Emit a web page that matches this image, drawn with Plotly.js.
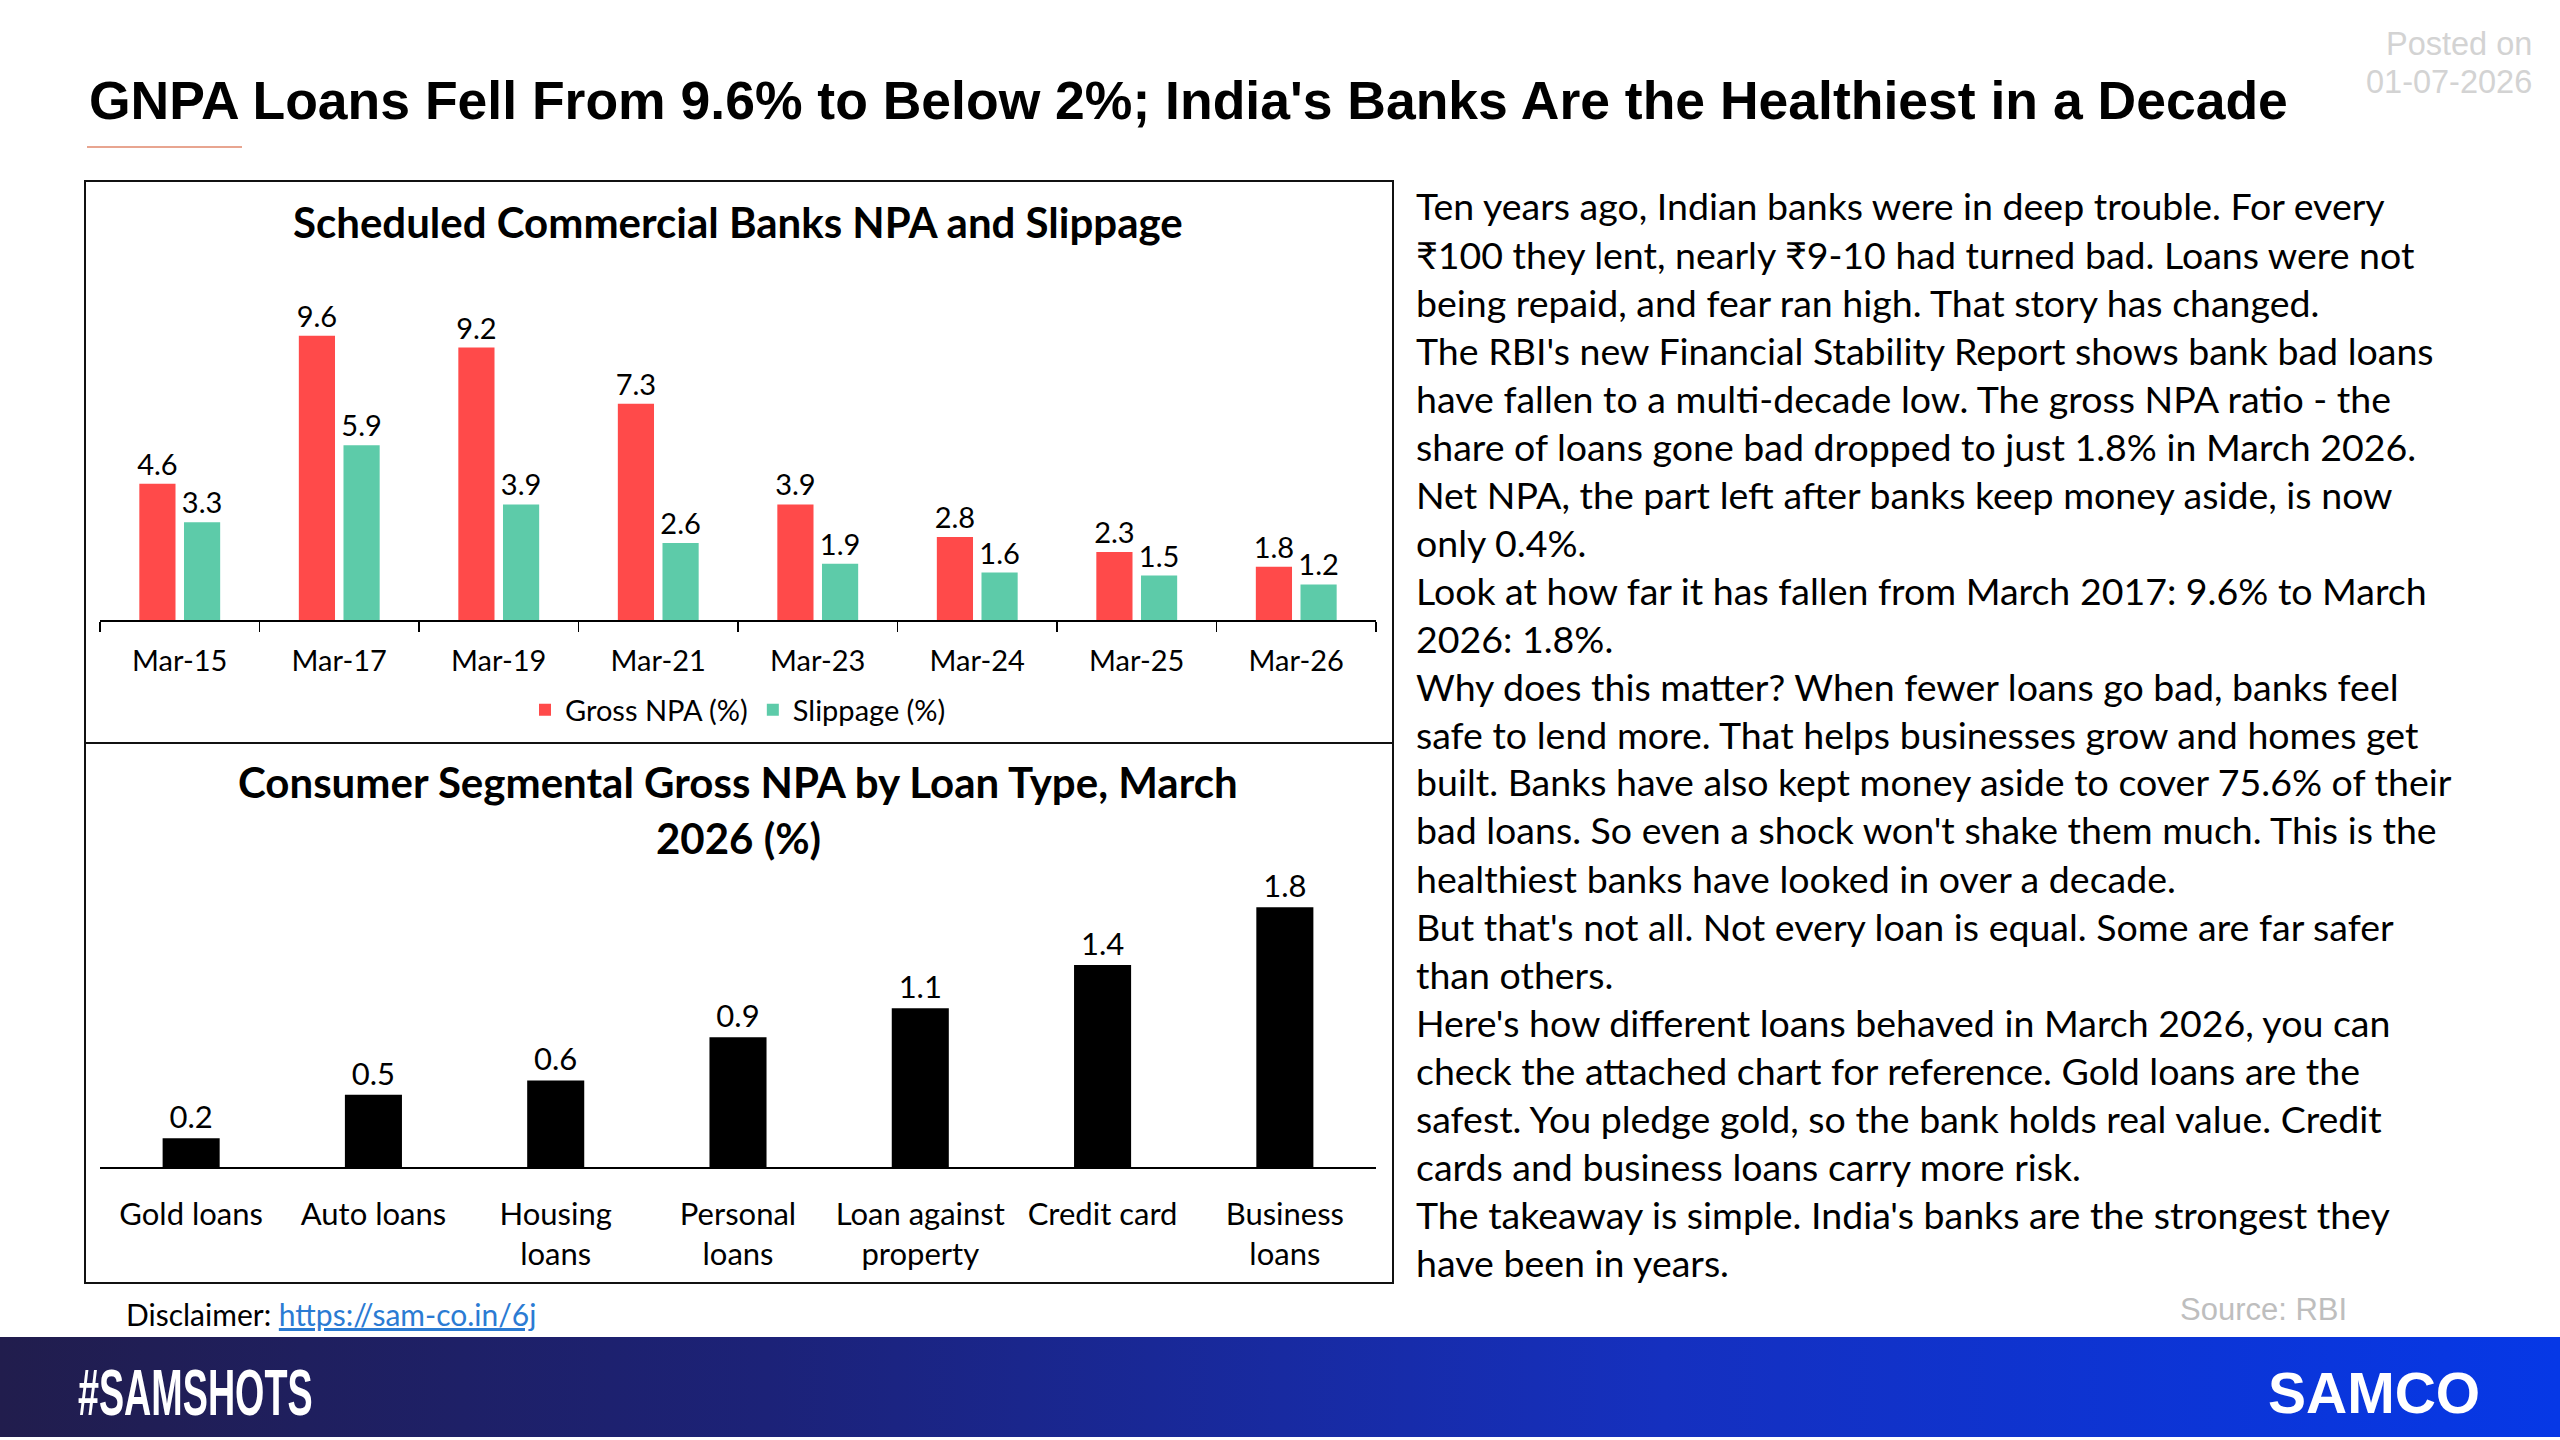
<!DOCTYPE html>
<html>
<head>
<meta charset="utf-8">
<script src="https://cdn.plot.ly/plotly-3.0.1.min.js"></script>
<style>
  html, body { margin:0; padding:0; background:#ffffff; }
  #wrap { position:relative; width:2560px; height:1440px; overflow:hidden; }
  #band { position:absolute; left:0; top:1337px; width:2560px; height:100px;
          background:linear-gradient(90deg, #211d4d 0%, #1c2278 30%, #1530bf 65%, #0638e6 100%); }
  #chart { position:absolute; left:0; top:0; width:2560px; height:1440px; }
  #tag { position:absolute; left:78px; top:1360px; font-family:"Liberation Sans", Arial, sans-serif;
         font-weight:bold; font-size:65px; line-height:65px; color:#fff; white-space:nowrap;
         transform:scaleX(0.58); transform-origin:left center; }
</style>
</head>
<body>
<div id="wrap">
  <div id="band"></div>
  <div id="chart"></div>
  <div id="tag">#SAMSHOTS</div>
</div>
<script>
// ---------- data ----------
const periods   = ['Mar-15','Mar-17','Mar-19','Mar-21','Mar-23','Mar-24','Mar-25','Mar-26'];
const grossNPA  = [4.6, 9.6, 9.2, 7.3, 3.9, 2.8, 2.3, 1.8];
const slippage  = [3.3, 5.9, 3.9, 2.6, 1.9, 1.6, 1.5, 1.2];

const loanTypes = ['Gold loans','Auto loans','Housing<br>loans','Personal<br>loans','Loan against<br>property','Credit card','Business<br>loans'];
const loanGNPA  = [0.2, 0.5, 0.6, 0.9, 1.1, 1.4, 1.8];

const mainTitle   = "GNPA Loans Fell From 9.6% to Below 2%; India's Banks Are the Healthiest in a Decade";
const chart1Title = 'Scheduled Commercial Banks NPA and Slippage';
const chart2Title = ['Consumer Segmental Gross NPA by Loan Type, March', '2026 (%)'];
const postedOn    = ['Posted on', '01-07-2026'];

const bodyLines = [
  'Ten years ago, Indian banks were in deep trouble. For every',
  '₹100 they lent, nearly ₹9-10 had turned bad. Loans were not',
  'being repaid, and fear ran high. That story has changed.',
  "The RBI's new Financial Stability Report shows bank bad loans",
  'have fallen to a multi-decade low. The gross NPA ratio - the',
  'share of loans gone bad dropped to just 1.8% in March 2026.',
  'Net NPA, the part left after banks keep money aside, is now',
  'only 0.4%.',
  'Look at how far it has fallen from March 2017: 9.6% to March',
  '2026: 1.8%.',
  'Why does this matter? When fewer loans go bad, banks feel',
  'safe to lend more. That helps businesses grow and homes get',
  'built. Banks have also kept money aside to cover 75.6% of their',
  "bad loans. So even a shock won't shake them much. This is the",
  'healthiest banks have looked in over a decade.',
  "But that's not all. Not every loan is equal. Some are far safer",
  'than others.',
  "Here's how different loans behaved in March 2026, you can",
  'check the attached chart for reference. Gold loans are the',
  'safest. You pledge gold, so the bank holds real value. Credit',
  'cards and business loans carry more risk.',
  "The takeaway is simple. India's banks are the strongest they",
  'have been in years.'
];

// ---------- helpers (pixel -> paper) ----------
const W = 2560, H = 1440;
const px = x => x / W;
const py = y => 1 - y / H;

const LATO = 'Lato, "Open Sans", sans-serif';
const ARIAL = '"Liberation Sans", Arial, sans-serif';

const traces = [
  {
    type:'bar', x:periods, y:grossNPA, name:'Gross NPA (%)',
    marker:{color:'#FF4A4A'},
    text:grossNPA.map(v => v.toFixed(1)), textposition:'outside',
    textfont:{family:LATO, size:29, color:'#000'},
    constraintext:'none', cliponaxis:false, hoverinfo:'skip',
    xaxis:'x', yaxis:'y'
  },
  {
    type:'bar', x:periods, y:slippage, name:'Slippage (%)',
    marker:{color:'#5DCBA9'},
    text:slippage.map(v => v.toFixed(1)), textposition:'outside',
    textfont:{family:LATO, size:29, color:'#000'},
    constraintext:'none', cliponaxis:false, hoverinfo:'skip',
    xaxis:'x', yaxis:'y'
  },
  {
    type:'bar', x:loanTypes, y:loanGNPA, name:'Gross NPA',
    marker:{color:'#000000'}, width:0.313, showlegend:false,
    text:loanGNPA.map(v => v.toFixed(1)), textposition:'outside',
    textfont:{family:LATO, size:31, color:'#000'},
    constraintext:'none', cliponaxis:false, hoverinfo:'skip',
    xaxis:'x2', yaxis:'y2'
  }
];

const annotations = [];
function addText(text, x, y, opts) {
  annotations.push(Object.assign({
    text:text, x:px(x), y:py(y), xref:'paper', yref:'paper',
    showarrow:false, xanchor:'left', yanchor:'middle',
    font:{family:LATO, size:33, color:'#000'}
  }, opts || {}));
}

addText('<b>' + mainTitle + '</b>', 87, 101, {font:{family:ARIAL, size:53.5, color:'#000'}});
addText(postedOn[0], 2534, 44, {xanchor:'right', font:{family:ARIAL, size:32.5, color:'#D3D3D3'}});
addText(postedOn[1], 2534, 82, {xanchor:'right', font:{family:ARIAL, size:32.5, color:'#D3D3D3'}});

addText('<b>' + chart1Title + '</b>', 738, 222, {xanchor:'center', font:{family:LATO, size:42, color:'#000'}});
addText('<b>' + chart2Title[0] + '</b>', 738, 782, {xanchor:'center', font:{family:LATO, size:42, color:'#000'}});
addText('<b>' + chart2Title[1] + '</b>', 738, 838, {xanchor:'center', font:{family:LATO, size:42, color:'#000'}});

bodyLines.forEach((ln, i) => addText(ln, 1414, 206 + i * 48, {font:{family:LATO, size:37.5, color:'#000'}}));

addText('Disclaimer: <a href="https://sam-co.in/6j"><span style="color:#2B7BD3"><u>https://sam-co.in/6j</u></span></a>',
        124, 1314, {font:{family:LATO, size:30, color:'#000'}});
addText('Source: RBI', 2263, 1309, {xanchor:'center', font:{family:ARIAL, size:31, color:'#BEBEBE'}});

addText('<b>SAMCO</b>', 2482, 1393, {xanchor:'right', font:{family:ARIAL, size:57, color:'#FFFFFF'}});

const shapes = [
  {type:'line', xref:'paper', yref:'paper', x0:px(87), x1:px(242), y0:py(147), y1:py(147), line:{color:'#E8A590', width:2}},
  {type:'rect', xref:'paper', yref:'paper', x0:px(85), x1:px(1393), y0:py(181), y1:py(743), line:{color:'#111', width:2}, fillcolor:'rgba(0,0,0,0)'},
  {type:'rect', xref:'paper', yref:'paper', x0:px(85), x1:px(1393), y0:py(743), y1:py(1283), line:{color:'#111', width:2}, fillcolor:'rgba(0,0,0,0)'}
];

const layout = {
  width:W, height:H,
  margin:{l:0, r:0, t:0, b:0, pad:0},
  paper_bgcolor:'rgba(0,0,0,0)', plot_bgcolor:'rgba(0,0,0,0)',
  barmode:'group', bargap:0.44, bargroupgap:0.19,
  showlegend:true,
  legend:{orientation:'h', x:px(738), xanchor:'center', y:py(710), yanchor:'middle',
          font:{family:LATO, size:29, color:'#000'}, bgcolor:'rgba(0,0,0,0)', itemwidth:30},
  xaxis:{domain:[px(100), px(1376)], anchor:'y', showline:true, linecolor:'#000', linewidth:1.5,
         ticks:'outside', tickson:'boundaries', ticklen:10, tickcolor:'#000', tickwidth:1.5,
         tickfont:{family:LATO, size:29, color:'#000'}, ticklabelstandoff:15,
         showgrid:false, zeroline:false, fixedrange:true},
  yaxis:{domain:[py(620), py(309)], range:[0, 10.5], visible:false, fixedrange:true},
  xaxis2:{domain:[px(100), px(1376)], anchor:'y2', showline:true, linecolor:'#000', linewidth:1.5,
          ticks:'', tickfont:{family:LATO, size:31, color:'#000'}, ticklabelstandoff:19,
          showgrid:false, zeroline:false, fixedrange:true},
  yaxis2:{domain:[py(1167), py(864)], range:[0, 2.1], visible:false, fixedrange:true},
  annotations:annotations,
  shapes:shapes
};

Plotly.newPlot('chart', traces, layout, {displayModeBar:false, staticPlot:true});
</script>
</body>
</html>
